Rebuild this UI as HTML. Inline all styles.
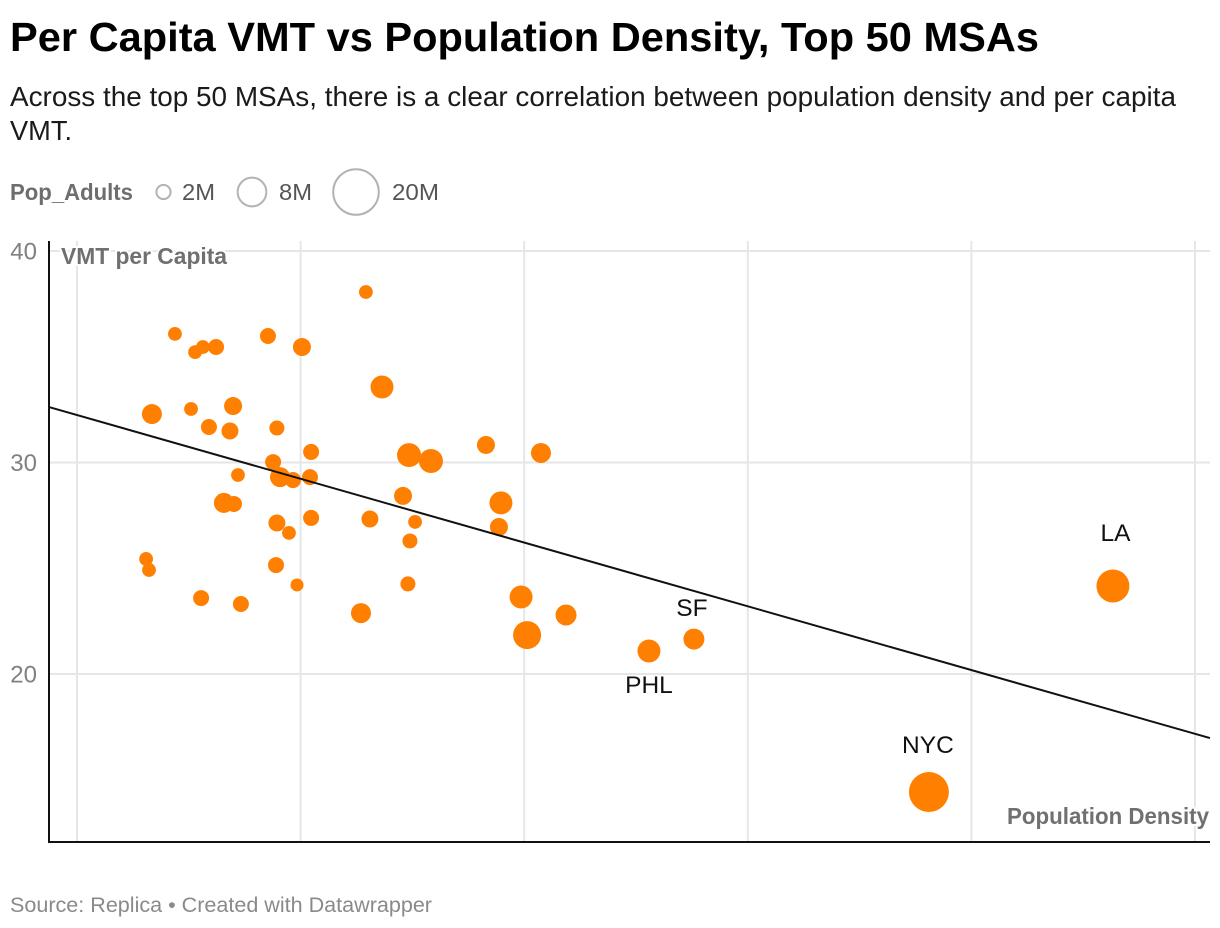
<!DOCTYPE html>
<html lang="en">
<head>
<meta charset="utf-8">
<title>Per Capita VMT vs Population Density, Top 50 MSAs</title>
<style>
html,body{margin:0;padding:0;background:#fff;}
svg{display:block;font-family:"Liberation Sans",sans-serif;}
.halo{paint-order:stroke;stroke:#fff;stroke-width:4px;stroke-linejoin:round;}
</style>
</head>
<body>
<svg id="chart" width="1220" height="928" viewBox="0 0 1220 928" xmlns="http://www.w3.org/2000/svg">
  <text x="10" y="51" font-size="41" font-weight="700" fill="#000" textLength="1029" lengthAdjust="spacingAndGlyphs">Per Capita VMT vs Population Density, Top 50 MSAs</text>
  <text x="10" y="106" font-size="27.5" fill="#1a1a1a" textLength="1166" lengthAdjust="spacingAndGlyphs">Across the top 50 MSAs, there is a clear correlation between population density and per capita</text>
  <text x="10" y="140" font-size="27.5" fill="#1a1a1a" textLength="62" lengthAdjust="spacingAndGlyphs">VMT.</text>
  <g id="legend">
    <text x="10" y="200" font-size="23.5" font-weight="700" fill="#6e6e6e" textLength="123" lengthAdjust="spacingAndGlyphs">Pop_Adults</text>
  </g>
  <g id="grid"></g>
  <g id="yticks"></g>
  <g id="dots"></g>
  <g id="trend"></g>
  <line x1="49" y1="241" x2="49" y2="843" stroke="#111" stroke-width="2"/>
  <line x1="48" y1="842" x2="1210" y2="842" stroke="#111" stroke-width="2"/>
  <text class="halo" x="61" y="264" font-size="23" font-weight="700" fill="#707070" textLength="166" lengthAdjust="spacingAndGlyphs">VMT per Capita</text>
  <text class="halo" x="1007" y="824" font-size="23" font-weight="700" fill="#707070" textLength="202" lengthAdjust="spacingAndGlyphs">Population Density</text>
  <g id="labels"></g>
  <text x="10" y="912" font-size="21.5" fill="#8a8a8a" textLength="422" lengthAdjust="spacingAndGlyphs">Source: Replica • Created with Datawrapper</text>
</svg>
<script>
const xTicks = [0, 1000, 2000, 3000, 4000, 5000];
const yTicks = [20, 30, 40];
const density = [1292,438,528,563,622,854,1006,1364,335,510,698,590,684,894,1047,877,720,908,966,1042,1485,1583,1829,2075,1458,1896,657,702,894,948,1047,1310,1512,1489,1887,309,322,890,984,1480,555,733,1270,1986,2013,2187,2558,2759,4633,3810];
const vmt = [38.06,36.08,35.22,35.46,35.46,35.98,35.46,33.57,32.29,32.53,32.67,31.68,31.49,31.63,30.50,30.02,29.41,29.31,29.17,29.31,30.35,30.07,30.83,30.45,28.42,28.09,28.09,28.04,27.14,26.67,27.38,27.33,27.19,26.29,26.95,25.44,24.92,25.15,24.21,24.26,23.59,23.31,22.88,23.64,21.84,22.79,21.09,21.65,24.16,14.42];
const popMillions = [1.8,1.8,1.8,1.8,2.42,2.42,3.07,5.0,3.79,1.8,3.07,2.42,2.73,2.13,2.42,2.42,1.8,3.79,2.42,2.42,5.45,5.45,3.07,3.79,3.07,5.0,3.79,2.42,2.73,1.8,2.42,2.73,1.8,2.13,3.07,1.8,1.8,2.42,1.6,2.13,2.42,2.42,3.79,5.0,7.42,4.17,5.0,4.17,10.3,15.1];
const legendPops = [2, 8, 20];
const legendText = ["2M", "8M", "20M"];
const trendX = [-125, 5067];
const trendY = [32.62, 16.97];
const labelText = ["LA", "SF", "PHL", "NYC"];
const labelDensity = [4633, 2759, 2558, 3810];
const labelVmt = [24.16, 21.65, 21.09, 14.42];
const labelAbove = [true, true, false, true];

const NS = "http://www.w3.org/2000/svg";
const xScale = v => 77 + v * 0.2236;
const yScale = v => 674 - (v - 20) * 21.15;
const rScale = p => 5.14 * Math.sqrt(p);

function mk(tag, parentId, attrs, txt) {
  const el = document.createElementNS(NS, tag);
  for (const k in attrs) el.setAttribute(k, attrs[k]);
  if (txt !== undefined) el.textContent = txt;
  document.getElementById(parentId).appendChild(el);
  return el;
}

xTicks.forEach(t => {
  const el = mk("line", "grid", {x1: xScale(t), x2: xScale(t), y1: 241, y2: 842, stroke: "#e6e6e6", "stroke-width": 2});
  
  
});
yTicks.forEach(t => {
  const el = mk("line", "grid", {x1: 49, x2: 1210, y1: yScale(t), y2: yScale(t), stroke: "#e6e6e6", "stroke-width": 2});
  
  
  const lb = mk("text", "yticks", {x: 37, y: yScale(t) + 8.5, "text-anchor": "end", "font-size": 24, fill: "#808080"}, String(t));
  
  
});

density.forEach((d, i) => {
  const el = mk("circle", "dots", {cx: xScale(d), cy: yScale(vmt[i]), r: rScale(popMillions[i]), fill: "#ff7f00"});
  
  
});

const tl = mk("line", "trend", {x1: xScale(trendX[0]), y1: yScale(trendY[0]), x2: xScale(trendX[1]), y2: yScale(trendY[1]), stroke: "#111", "stroke-width": 2});



labelText.forEach((t, i) => {
  const cx = xScale(labelDensity[i]);
  const cy = yScale(labelVmt[i]);
  const above = labelAbove[i];
  const lb = mk("text", "labels", {x: cx + (t === "SF" ? -2 : t === "PHL" ? 0 : t === "LA" ? 2.5 : -1), y: above ? cy - (t === "NYC" ? 39 : t === "SF" ? 23 : 45) : cy + 42, "text-anchor": "middle", "font-size": 24.5, fill: "#111"}, t);
  
  
});

const legendCx = [163.5, 252, 356];
const legendTx = [182, 279, 392];
const legendLen = [33, 33, 47];
legendPops.forEach((p, i) => {
  const c = mk("circle", "legend", {cx: legendCx[i], cy: 192, r: rScale(p) - 0.2, fill: "none", stroke: "#b3b3b3", "stroke-width": 2});
  
  
  const t = mk("text", "legend", {x: legendTx[i], y: 200, "font-size": 23.5, fill: "#555", textLength: legendLen[i], lengthAdjust: "spacingAndGlyphs"}, legendText[i]);
  
  
});
</script>
</body>
</html>
